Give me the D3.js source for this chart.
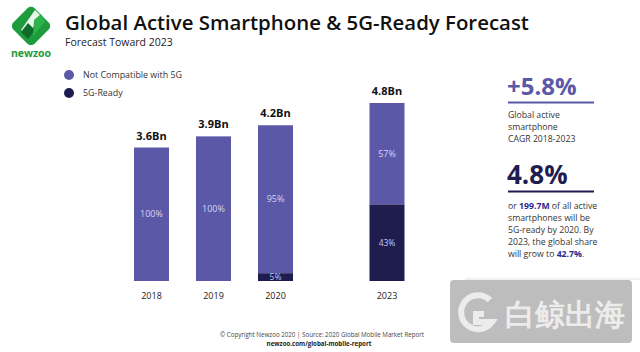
<html>
<head>
<script src="https://d3js.org/d3.v7.min.js"></script>
<style>
  body { margin: 0; background: #fff; }
  text { font-family: "Open Sans", "Noto Sans", sans-serif; }
</style>
</head>
<body>
<svg id="chart" width="640" height="352"></svg>
<script>
// data
const years = [2018, 2019, 2020, 2023];
const totals = [3.6, 3.9, 4.2, 4.8];
const totalLabels = ["3.6Bn", "3.9Bn", "4.2Bn", "4.8Bn"];
const notCompatible = [100, 100, 95, 57];
const fiveGReady = [0, 0, 5, 43];
const seriesNames = ["Not Compatible with 5G", "5G-Ready"];

const cLight = "#5b58a7";
const cDark = "#1f1c50";

const svg = d3.select("#chart");

// header / logo
const logo = svg.append("g").attr("transform", "translate(31,26)");
logo.append("rect").attr("x", -15).attr("y", -15).attr("width", 30).attr("height", 30)
    .attr("rx", 5).attr("fill", "#1e9b3c").attr("transform", "rotate(45)");
logo.append("path").attr("d", "M4,-16 L-10,4 L-4,10 L10,-10 Z").attr("fill", "#e8f5ea");
logo.append("path").attr("d", "M-3,-3 L-10,6 L-3,13 L4,4 Z").attr("fill", "#0f6b2a");
logo.append("path").attr("d", "M3,-6 L10,-12 L14,-4 L2,10 Z").attr("fill", "#2cb34c");
svg.append("text").attr("x", 31).attr("y", 57).attr("text-anchor", "middle")
    .attr("font-size", 10.5).attr("font-weight", 700).attr("fill", "#1e9b3c")
    .text("newzoo");

svg.append("text").attr("x", 65).attr("y", 30)
    .attr("font-size", 20.4).attr("font-weight", 600).attr("fill", "#111")
    .text("Global Active Smartphone & 5G-Ready Forecast");
svg.append("text").attr("x", 65).attr("y", 46)
    .attr("font-size", 10.5).attr("fill", "#222")
    .text("Forecast Toward 2023");

// legend
const legend = svg.append("g");
seriesNames.forEach((n, i) => {
  legend.append("circle").attr("cx", 69).attr("cy", 75 + i * 18).attr("r", 5)
      .attr("fill", i === 0 ? cLight : cDark);
  legend.append("text").attr("x", 83).attr("y", 78 + i * 18)
      .attr("font-size", 8.9).attr("fill", "#333").text(n);
});

// scales: 2023 is set apart from the 2018-2020 group
const x = d3.scaleLinear()
    .domain(years)
    .range([151.5, 213.5, 275.5, 387]);
const barW = 35;
const y = d3.scaleLinear().domain([0, 4.8]).range([281, 103]);

const rows = years.map((yr, i) => ({
  year: yr, total: totals[i], label: totalLabels[i],
  nc: notCompatible[i], g5: fiveGReady[i]
}));

const bars = svg.append("g");
rows.forEach(d => {
  const cx = x(d.year);
  const top = y(d.total);
  const base = y(0);
  const split = y(d.total * d.nc / 100);   // boundary between segments
  const h5 = base - (base - top) * d.g5 / 100;
  bars.append("rect").attr("x", cx - barW / 2).attr("y", top)
      .attr("width", barW).attr("height", h5 - top).attr("fill", cLight);
  if (d.g5 > 0) {
    bars.append("rect").attr("x", cx - barW / 2).attr("y", h5)
        .attr("width", barW).attr("height", base - h5).attr("fill", cDark);
    bars.append("text").attr("x", cx).attr("y", (h5 + base) / 2 + 3)
        .attr("text-anchor", "middle").attr("font-size", 8.5)
        .attr("fill", "#c9c7ec").text(d.g5 + "%");
  }
  bars.append("text").attr("x", cx).attr("y", (top + h5) / 2 + 3)
      .attr("text-anchor", "middle").attr("font-size", 9)
      .attr("fill", "#d6d4f2").text(d.nc + "%");
  bars.append("text").attr("x", cx).attr("y", top - 8)
      .attr("text-anchor", "middle").attr("font-size", 11).attr("font-weight", 700)
      .attr("fill", "#111").text(d.label);
  bars.append("text").attr("x", cx).attr("y", 299)
      .attr("text-anchor", "middle").attr("font-size", 9)
      .attr("fill", "#222").text(d.year);
});

// right panel
const rp = svg.append("g");
rp.append("text").attr("x", 507).attr("y", 95).attr("font-size", 24).attr("font-weight", 700)
    .attr("fill", cLight).text("+5.8%");
rp.append("rect").attr("x", 508).attr("y", 101.5).attr("width", 86).attr("height", 2).attr("fill", cLight);
["Global active", "smartphone", "CAGR 2018-2023"].forEach((t, i) => {
  rp.append("text").attr("x", 508).attr("y", 118 + i * 12).attr("font-size", 8.7)
      .attr("fill", "#333").text(t);
});
rp.append("text").attr("x", 507).attr("y", 184).attr("font-size", 26).attr("font-weight", 700)
    .attr("fill", cDark).text("4.8%");
rp.append("rect").attr("x", 508).attr("y", 190.5).attr("width", 86).attr("height", 2).attr("fill", cDark);
const lines = [
  [["or ", 0], ["199.7M", 1], [" of all active", 0]],
  [["smartphones will be", 0]],
  [["5G-ready by 2020. By", 0]],
  [["2023, the global share", 0]],
  [["will grow to ", 0], ["42.7%", 1], [".", 0]]
];
lines.forEach((ln, i) => {
  const t = rp.append("text").attr("x", 508).attr("y", 209 + i * 12)
      .attr("font-size", 8.7).attr("fill", "#333");
  ln.forEach(([s, b]) => {
    t.append("tspan").text(s)
        .attr("font-weight", b ? 700 : 400)
        .attr("fill", b ? "#2b2790" : "#333");
  });
});
svg.append("line").attr("x1", 465).attr("x2", 640).attr("y1", 279).attr("y2", 279)
    .attr("stroke", "#e2e2e2");

// footer
svg.append("text").attr("x", 322).attr("y", 337).attr("text-anchor", "middle")
    .attr("font-size", 6.2).attr("fill", "#444")
    .text("\u00A9 Copyright Newzoo 2020 | Source: 2020 Global Mobile Market Report");
svg.append("text").attr("x", 319).attr("y", 346).attr("text-anchor", "middle")
    .attr("font-size", 6.2).attr("font-weight", 700).attr("fill", "#222")
    .text("newzoo.com/global-mobile-report");

// watermark
const wm = svg.append("g").attr("opacity", 0.75);
wm.append("rect").attr("x", 450).attr("y", 280).attr("width", 182).attr("height", 63)
    .attr("rx", 4).attr("fill", "#a8a8a8");
wm.append("path")
    .attr("d", "M490,300 A17,17 0 1 0 492,322 L476,322 L476,314 L484,314")
    .attr("fill", "none").attr("stroke", "#e6e6e6").attr("stroke-width", 6);
wm.append("text").attr("x", 505).attr("y", 325)
    .attr("font-family", "Noto Sans CJK SC").attr("font-size", 30).attr("font-weight", 700)
    .attr("fill", "#e6e6e6").text("白鲸出海");
</script>
</body>
</html>
